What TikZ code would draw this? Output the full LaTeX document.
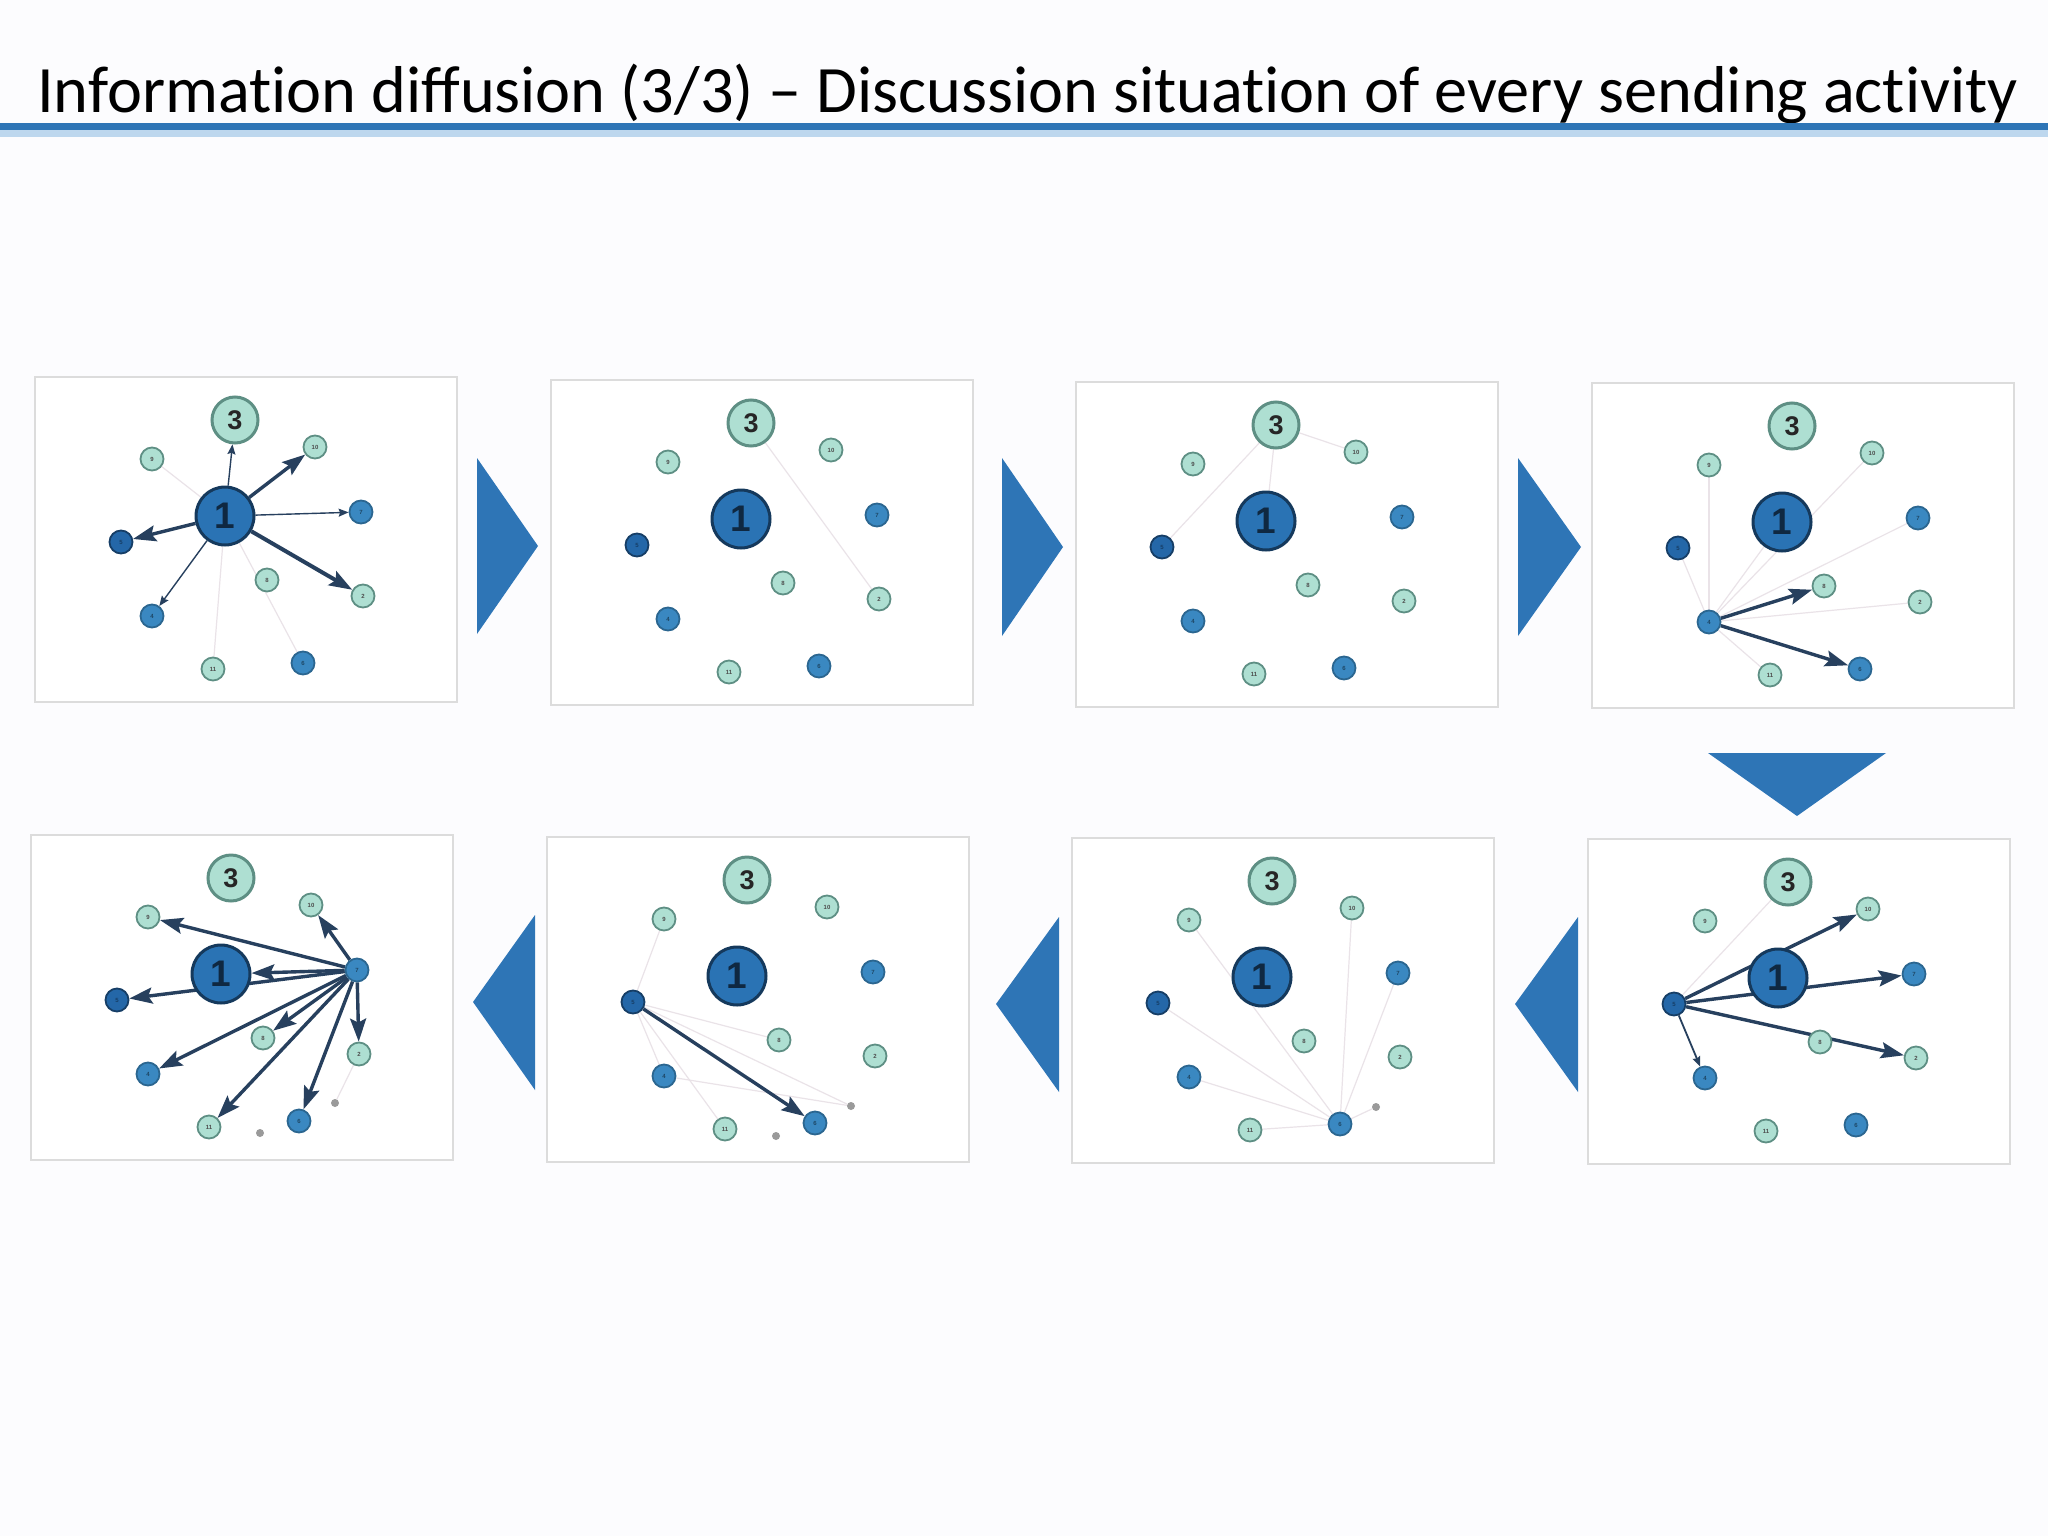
\documentclass[tikz,border=0pt]{standalone}
\usepackage{fontspec}
\setmainfont{Carlito}
\newfontfamily\numfont{Liberation Sans}
\usetikzlibrary{arrows.meta}
\definecolor{accent}{HTML}{2E75B6}
\definecolor{accentlt}{HTML}{BDD7EE}
\definecolor{edgec}{HTML}{27405E}
\definecolor{faintc}{HTML}{EAE3E8}
\definecolor{ltf}{HTML}{AEDFD2}
\definecolor{ltb}{HTML}{5E8F84}
\definecolor{midf}{HTML}{3A88C1}
\definecolor{midb}{HTML}{2B6690}
\definecolor{dkf}{HTML}{2467A8}
\definecolor{dkb}{HTML}{163E66}
\definecolor{onef}{HTML}{2A73B4}
\definecolor{oneb}{HTML}{15395C}
\definecolor{framec}{HTML}{DCDCDC}
\definecolor{chev}{HTML}{2E75B6}
\definecolor{dotc}{HTML}{9A9A9A}
\definecolor{bgc}{HTML}{FCFCFE}
\pgfdeclarelayer{bgl}
\pgfdeclarelayer{frames}
\pgfdeclarelayer{edges}
\pgfsetlayers{bgl,frames,edges,main}
\newcommand\tiX{t\kern0pt i}
\tikzset{
  onenode/.style={circle, draw=oneb, fill=onef, line width=3pt, minimum size=58pt, inner sep=0pt,
    font=\numfont\bfseries\fontsize{37}{37}\selectfont, text=oneb!70!black},
  threenode/.style={circle, draw=ltb, fill=ltf, line width=3pt, minimum size=46pt, inner sep=0pt,
    font=\numfont\bfseries\fontsize{27}{27}\selectfont, text=black!85},
  ltnode/.style={circle, draw=ltb, fill=ltf, line width=1.8pt, minimum size=23pt, inner sep=0pt,
    font=\numfont\bfseries\fontsize{6}{6}\selectfont, text=black!70},
  midnode/.style={circle, draw=midb, fill=midf, line width=1.8pt, minimum size=23pt, inner sep=0pt,
    font=\numfont\bfseries\fontsize{6}{6}\selectfont, text=midb!70!black},
  dknode/.style={circle, draw=dkb, fill=dkf, line width=1.8pt, minimum size=23pt, inner sep=0pt,
    font=\numfont\bfseries\fontsize{6}{6}\selectfont, text=dkb},
  dotnode/.style={circle, fill=dotc, minimum size=8pt, inner sep=0pt},
  framebox/.style={rectangle, draw=framec, fill=white, line width=1.5pt, minimum width=422pt,
    minimum height=325pt, inner sep=0pt, outer sep=0pt},
  heavy/.style={draw=edgec, line width=3.4pt, -{Stealth[length=23pt,width=16pt,inset=4pt]}},
  thinarr/.style={draw=edgec, line width=1.4pt, -{Stealth[length=10pt,width=8pt,inset=1.5pt]}},
  faint/.style={draw=faintc, line width=1.2pt},
  chevron/.style={fill=chev},
}
\newcommand\netnodes[3]{%
  \begin{scope}[shift={(#2,#3)}]
    \begin{pgfonlayer}{frames}
      \node[framebox] (#1-frame) at (211,162.5) {};
    \end{pgfonlayer}
    \node[onenode] (#1-1) at (190,139) {1};
    \node[threenode] (#1-3) at (200,43) {3};
    \node[ltnode] (#1-9) at (117,82) {9};
    \node[ltnode] (#1-10) at (280,70) {10};
    \node[midnode] (#1-7) at (326,135) {7};
    \node[ltnode] (#1-2) at (328,219) {2};
    \node[ltnode] (#1-8) at (232,203) {8};
    \node[midnode] (#1-6) at (268,286) {6};
    \node[ltnode] (#1-11) at (178,292) {11};
    \node[midnode] (#1-4) at (117,239) {4};
    \node[dknode] (#1-5) at (86,165) {5};
  \end{scope}}
\begin{document}
\begin{tikzpicture}[x=1pt,y=-1pt]
\useasboundingbox (0,0) rectangle (2048,1536);
\begin{pgfonlayer}{bgl}
\fill[bgc] (0,0) rectangle (2048,1536);
\end{pgfonlayer}

% title
\node[anchor=base west, inner sep=0pt, font=\fontsize{66.3}{78}\selectfont] (title) at (37,113)
  {Informa\tiX on diffusion (3/3) – Discussion situa\tiX on of every sending ac\tiX vity};
\fill[accent] (0,123) rectangle (2048,130);
\fill[accentlt] (0,130) rectangle (2048,137);

% panels
\netnodes{a}{35}{377}
\netnodes{b}{551}{380}
\netnodes{c}{1076}{382}
\netnodes{d}{1592}{383}
\netnodes{e}{1588}{839}
\netnodes{f}{1072}{838}
\netnodes{g}{547}{837}
\netnodes{h}{31}{835}

% small grey dots
\node[dotnode] (f-d1) at (1376,1107) {};
\node[dotnode] (g-d1) at (851,1106) {};
\node[dotnode] (g-d2) at (776,1136) {};
\node[dotnode] (h-d1) at (335,1103) {};
\node[dotnode] (h-d2) at (260,1133) {};

\begin{pgfonlayer}{edges}
% panel 1
\draw[faint] (a-1) -- (a-9);
\draw[faint] (a-1) -- (a-11);
\draw[faint] (a-1) -- (a-6);
\draw[heavy, line width=4pt] (a-1) -- (a-2);
\draw[heavy] (a-1) -- (a-10);
\draw[heavy] (a-1) -- (a-5);
\draw[thinarr] (a-1) -- (a-3);
\draw[thinarr] (a-1) -- (a-7);
\draw[thinarr] (a-1) -- (a-4);
% panel 2
\draw[faint] (b-3) -- (b-2);
% panel 3
\draw[faint] (c-3) -- (c-10);
\draw[faint] (c-3) -- (c-1);
\draw[faint] (c-3) -- (c-5);
% panel 4
\foreach \t in {9,5,1,10,7,2,11} \draw[faint] (d-4) -- (d-\t);
\draw[heavy] (d-4) -- (d-8);
\draw[heavy] (d-4) -- (d-6);
% panel 5
\draw[faint] (e-5) -- (e-3);
\draw[heavy] (e-5) -- (e-10);
\draw[heavy] (e-5) -- (e-7);
\draw[heavy] (e-5) -- (e-2);
\draw[thinarr, line width=1.8pt] (e-5) -- (e-4);
% panel 6
\foreach \t in {9,5,4,11,10,7} \draw[faint] (f-6) -- (f-\t);
\draw[faint] (f-6) -- (f-d1);
% panel 7
\foreach \t in {9,8,11,4} \draw[faint] (g-5) -- (g-\t);
\draw[faint] (g-5) -- (g-d1);
\draw[faint] (g-4) -- (g-d1);
\draw[heavy] (g-5) -- (g-6);
% panel 8
\draw[faint] (h-2) -- (h-d1);
\foreach \t in {9,1,5,10,2,6,11,4,8} \draw[heavy] (h-7) -- (h-\t);
\end{pgfonlayer}

% chevrons
\fill[chevron] (477,458) -- (538,546) -- (477,634) -- cycle;
\fill[chevron] (1002,458) -- (1063,547) -- (1002,636) -- cycle;
\fill[chevron] (1518,458) -- (1581,547) -- (1518,636) -- cycle;
\fill[chevron] (1708,753) -- (1886,753) -- (1797,816) -- cycle;
\fill[chevron] (1578,917) -- (1515,1004) -- (1578,1092) -- cycle;
\fill[chevron] (1059,917) -- (996,1004) -- (1059,1092) -- cycle;
\fill[chevron] (535,915) -- (473,1002) -- (535,1090) -- cycle;
\end{tikzpicture}
\end{document}
